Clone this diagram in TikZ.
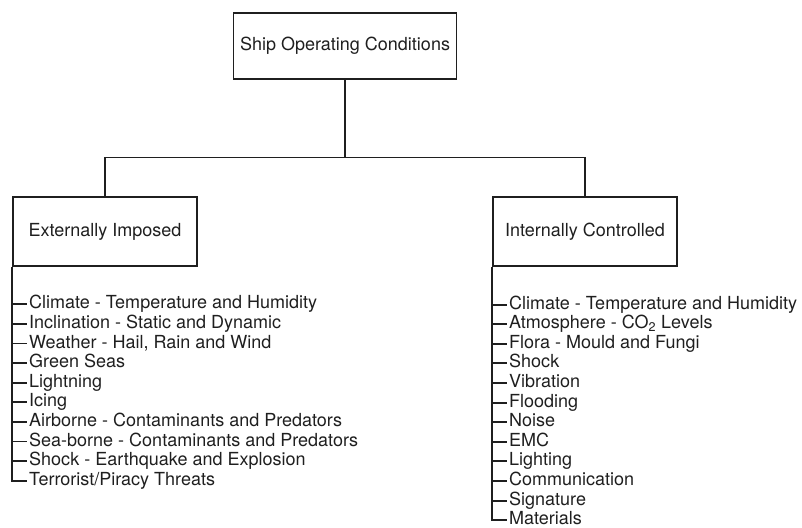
\documentclass[tikz,border=0pt]{standalone}
\usepackage{fontspec}
\setmainfont{TeX Gyre Heros}
\begin{document}
\begin{tikzpicture}[x=1pt,y=-1pt,
  every node/.style={font=\fontsize{18}{20}\selectfont, text=black!88},
  box/.style={draw=black!88, line width=1.9pt, inner sep=0pt, align=center},
  item/.style={anchor=west, inner xsep=1.6pt, inner ysep=0pt, text height=9pt, text depth=0pt},
  wire/.style={draw=black!88, line width=1.9pt}]
\useasboundingbox (0,0) rectangle (802,527);

% top level and the two branches
\node[box, minimum width=223pt, minimum height=66.6pt] (top) at (345,46) {Ship Operating Conditions};
\node[box, minimum width=183.4pt, minimum height=68.4pt] (ext) at (105,231.5) {Externally Imposed};
\node[box, minimum width=183.4pt, minimum height=68.4pt] (int) at (585,231.5) {Internally Controlled};

\coordinate (bus) at (0,157.5);
\draw[wire] (top.south) -- (top.south |- bus);
\draw[wire] (ext.north) -- (ext.north |- bus) -- (int.north |- bus) -- (int.north);

% external conditions
\foreach \t [count=\i from 0] in {
  {Climate - Temperature and Humidity},
  {Inclination - Static and Dynamic},
  {Weather - Hail, Rain and Wind},
  {Green Seas},
  {Lightning},
  {Icing},
  {Airborne - Contaminants and Predators},
  {Sea-borne - Contaminants and Predators},
  {Shock - Earthquake and Explosion},
  {Terrorist/Piracy Threats}}
  \node[item] (e\i) at (27.4,{304.3+19.6*\i}) {\t};
\foreach \i in {0,...,8}
  \draw[wire] (ext.south west |- e\i.west) -- (e\i.west);
\draw[wire] (ext.south west) |- (e9.west);

% internal conditions
\foreach \t [count=\i from 0] in {
  {Climate - Temperature and Humidity},
  {Atmosphere - CO\textsubscript{2} Levels},
  {Flora - Mould and Fungi},
  {Shock},
  {Vibration},
  {Flooding},
  {Noise},
  {EMC},
  {Lighting},
  {Communication},
  {Signature},
  {Materials}}
  \node[item] (n\i) at (507.4,{304.6+19.6*\i}) {\t};
\foreach \i in {0,...,10}
  \draw[wire] (int.south west |- n\i.west) -- (n\i.west);
\draw[wire] (int.south west) |- (n11.west);
\end{tikzpicture}
\end{document}
